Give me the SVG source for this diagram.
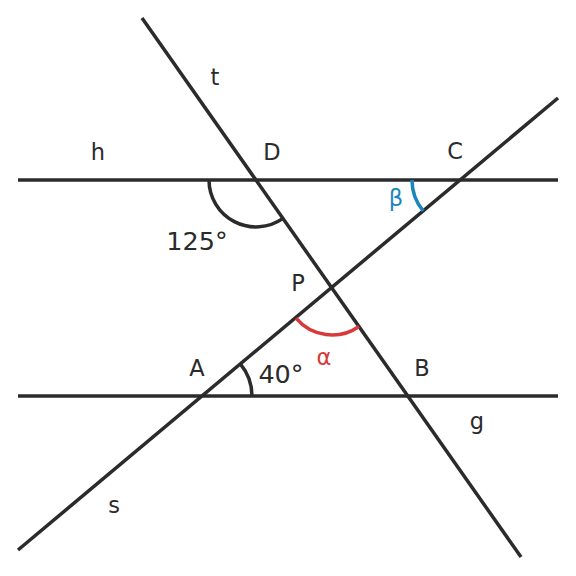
<svg xmlns="http://www.w3.org/2000/svg" width="576" height="576" viewBox="0 0 576 576">
<style>
.ln{stroke:#2b2b2b;stroke-width:3.5;fill:none;stroke-linecap:butt}
.arc{stroke-width:3.5;fill:none}
text{font-family:"DejaVu Sans",sans-serif;font-size:22.5px;text-anchor:middle;dominant-baseline:central;fill:#2b2b2b}
.deg{font-size:25.5px}
</style>
<rect width="576" height="576" fill="#ffffff"/>
<g id="connectors">
<line id="h" class="ln" x1="18" y1="180" x2="558" y2="180"/>
<line id="g" class="ln" x1="18" y1="396" x2="558" y2="396"/>
<line id="t" class="ln" x1="142" y1="18" x2="521" y2="557"/>
<line id="s" class="ln" x1="18" y1="550" x2="558" y2="98"/>
</g>
<g id="angles">
<path id="angle125" class="arc" stroke="#2b2b2b" d="M209,180 A47,47 0 0 0 283,218.4"/>
<path id="angle40" class="arc" stroke="#2b2b2b" d="M252,396 A50,50 0 0 0 240.3,363.9"/>
<path id="alpha" class="arc" stroke="#d63a3a" d="M296,318.2 A47,47 0 0 0 359,326.5"/>
<path id="beta" class="arc" stroke="#1a86c0" d="M412,180 A48,48 0 0 0 423.2,210.9"/>
</g>
<g id="labels">
<text x="215" y="77">t</text>
<text x="98" y="152">h</text>
<text x="272" y="152">D</text>
<text x="455" y="151">C</text>
<text x="396" y="198" style="fill:#1a86c0">β</text>
<text class="deg" x="197" y="241">125°</text>
<text x="298" y="283">P</text>
<text x="324" y="357" style="fill:#d63a3a">α</text>
<text x="197" y="368">A</text>
<text class="deg" x="281" y="374">40°</text>
<text x="422" y="368">B</text>
<text x="477" y="421">g</text>
<text x="114" y="505">s</text>
</g>
</svg>
